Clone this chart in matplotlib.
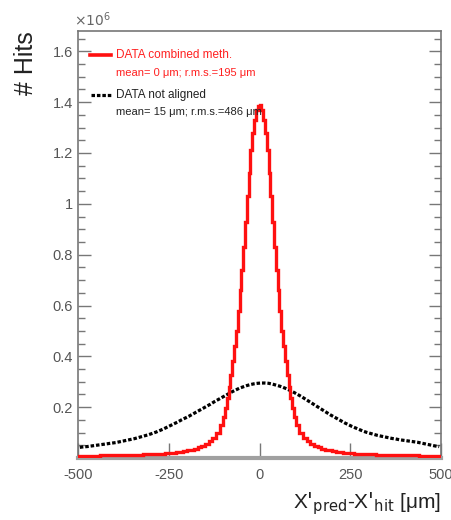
import numpy as np
import matplotlib
matplotlib.use("Agg")
import matplotlib.pyplot as plt
from matplotlib.ticker import MultipleLocator

plt.rcParams['font.family'] = ['Liberation Sans Narrow', 'Liberation Sans', 'DejaVu Sans']
plt.rcParams['mathtext.fontset'] = 'custom'
plt.rcParams['mathtext.rm'] = 'Liberation Sans Narrow'
plt.rcParams['mathtext.it'] = 'Liberation Sans Narrow'

# combined method: 10 um bins in the tails, 5 um bins in the core (units of 1e6 hits)
combined_edges = np.concatenate([np.arange(-500, -100, 10),
                                 np.arange(-100, 100, 5),
                                 np.arange(100, 501, 10)])

hits_combined = [
    # -500 .. -100
    0.008, 0.008, 0.009, 0.009, 0.009, 0.009, 0.010, 0.010, 0.010, 0.010,
    0.011, 0.011, 0.011, 0.012, 0.012, 0.012, 0.013, 0.013, 0.014, 0.014,
    0.015, 0.015, 0.016, 0.017, 0.018, 0.019, 0.021, 0.023, 0.025, 0.027,
    0.030, 0.033, 0.037, 0.042, 0.048, 0.056, 0.066, 0.080, 0.100, 0.128,
    # -100 .. 0
    0.160, 0.195, 0.235, 0.280, 0.325, 0.380, 0.440, 0.500, 0.580, 0.660,
    0.740, 0.830, 0.930, 1.030, 1.120, 1.210, 1.280, 1.330, 1.370, 1.385,
    # 0 .. 100
    1.390, 1.370, 1.330, 1.280, 1.210, 1.120, 1.030, 0.930, 0.830, 0.740,
    0.660, 0.580, 0.500, 0.440, 0.380, 0.325, 0.280, 0.235, 0.195, 0.160,
    # 100 .. 500
    0.128, 0.100, 0.080, 0.066, 0.056, 0.048, 0.042, 0.037, 0.033, 0.030,
    0.027, 0.025, 0.023, 0.021, 0.019, 0.018, 0.017, 0.016, 0.015, 0.015,
    0.014, 0.014, 0.013, 0.013, 0.012, 0.012, 0.012, 0.011, 0.011, 0.011,
    0.010, 0.010, 0.010, 0.010, 0.009, 0.009, 0.009, 0.009, 0.008, 0.008,
]

# not aligned: 10 um bins, bin centres -495 .. 495
aligned_centres = np.arange(-495, 500, 10)
hits_not_aligned = [
    0.042, 0.044, 0.045, 0.047, 0.049, 0.051, 0.053, 0.055, 0.057, 0.059,
    0.061, 0.064, 0.067, 0.070, 0.073, 0.076, 0.080, 0.084, 0.088, 0.092,
    0.097, 0.102, 0.108, 0.114, 0.121, 0.128, 0.135, 0.142, 0.150, 0.157,
    0.164, 0.172, 0.180, 0.188, 0.196, 0.204, 0.212, 0.221, 0.229, 0.237,
    0.245, 0.253, 0.261, 0.268, 0.275, 0.280, 0.285, 0.289, 0.292, 0.294,
    0.295, 0.295, 0.294, 0.291, 0.287, 0.283, 0.278, 0.272, 0.265, 0.258,
    0.250, 0.242, 0.233, 0.224, 0.215, 0.206, 0.197, 0.188, 0.179, 0.170,
    0.162, 0.154, 0.146, 0.138, 0.131, 0.124, 0.118, 0.112, 0.106, 0.101,
    0.097, 0.093, 0.089, 0.086, 0.083, 0.080, 0.077, 0.075, 0.072, 0.070,
    0.068, 0.066, 0.064, 0.062, 0.059, 0.056, 0.053, 0.050, 0.047, 0.045,
]

x_ticks = [-500, -250, 0, 250, 500]
y_ticks = [0.2, 0.4, 0.6, 0.8, 1.0, 1.2, 1.4, 1.6]
y_tick_labels = ['0.2', '0.4', '0.6', '0.8', '1', '1.2', '1.4', '1.6']

fig = plt.figure(figsize=(4.52, 5.2), dpi=100)
ax = fig.add_axes([0.1726, 0.1192, 0.8031, 0.8212])

ax.plot(aligned_centres, hits_not_aligned, color='black', lw=2.3,
        linestyle=(0, (1.1, 0.6)))
ax.stairs(hits_combined, combined_edges, color='#ff1010', lw=2.4, zorder=3)

ax.set_xlim(-500, 500)
ax.set_ylim(0, 1.68)

ax.set_xticks(x_ticks)
ax.set_xticklabels([str(v) for v in x_ticks])
ax.set_yticks(y_ticks)
ax.set_yticklabels(y_tick_labels)
ax.yaxis.set_minor_locator(MultipleLocator(0.05))

ax.tick_params(axis='both', which='both', direction='in', colors='#777777',
               labelcolor='#555555', labelsize=10.5)
ax.tick_params(axis='y', which='both', right=True)
ax.tick_params(axis='y', which='major', length=9, width=1)
ax.tick_params(axis='y', which='minor', length=5, width=1)
ax.tick_params(axis='x', which='major', length=11, width=1, pad=7)

for side in ['left', 'right', 'top']:
    ax.spines[side].set_color('#777777')
    ax.spines[side].set_linewidth(1.2)
ax.spines['bottom'].set_color('#a0a0a0')
ax.spines['bottom'].set_linewidth(3)

# scale factor on the y axis
fig.text(0.163, 0.95, r'$\times 10^{6}$', color='#666666', fontsize=10)

ax.set_ylabel('# Hits', fontsize=18, color='#222222', family='Liberation Sans')
ax.yaxis.set_label_coords(-0.11, 1.0)
ax.yaxis.label.set_ha('right')

ax.set_xlabel("X$'_{\\rm pred}$-X$'_{\\rm hit}$ [\u03bcm]", fontsize=15,
              color='#222222', ha='right')
ax.xaxis.set_label_coords(1.0, -0.075)

# legend entries
ax.plot([-468, -408], [1.584, 1.584], color='#ff1010', lw=2.6)
ax.text(-395, 1.584, 'DATA combined meth.', color='#ff2020', fontsize=8.5,
        va='center')
ax.text(-395, 1.513, 'mean= 0 \u03bcm; r.m.s.=195 \u03bcm', color='#ff2020',
        fontsize=8, va='center')
ax.plot([-465, -408], [1.43, 1.43], color='black', lw=2.3,
        linestyle=(0, (1.1, 0.6)))
ax.text(-395, 1.43, 'DATA not aligned', color='#222222', fontsize=8.5,
        va='center')
ax.text(-395, 1.36, 'mean= 15 \u03bcm; r.m.s.=486 \u03bcm', color='#222222',
        fontsize=8, va='center')

fig.savefig('out.png', dpi=100)
